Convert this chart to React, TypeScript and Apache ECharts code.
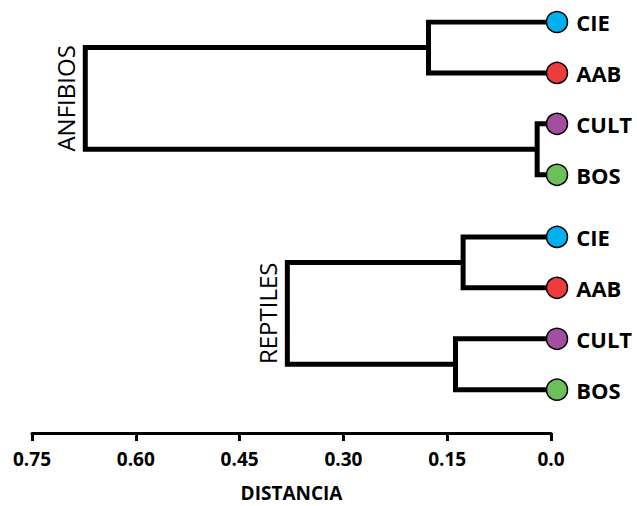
import React, { useEffect, useRef } from "react";
import * as echarts from "echarts";

// Leaves (same order in both dendrograms)
const leafNames = ["CIE", "AAB", "CULT", "BOS"];
const leafColors = ["#00B0F0", "#EE3B3B", "#A24FA0", "#6DBF59"];

// Groups and their merge heights: [CIE-AAB, CULT-BOS, root]
const groupNames = ["ANFIBIOS", "REPTILES"];
const anfibiosMerges = [0.177, 0.02, 0.673];
const reptilesMerges = [0.127, 0.138, 0.381];
const groupMerges = [anfibiosMerges, reptilesMerges];

// Axis ticks
const xMin = 0;
const xMax = 0.75;
const xInterval = 0.15;

const GROUP_SLOT = 4.22; // leaf slots per group incl. gap
const Y_MAX = 8.07;
const FONT = "'Open Sans', 'Noto Sans', sans-serif";

export default function App() {
  const ref = useRef<HTMLDivElement>(null);
  useEffect(() => {
    if (!ref.current) return;
    const chart = echarts.init(ref.current, undefined, { renderer: "svg" });
    const lineStyle = { color: "#000", width: 5, join: "miter" as const };
    const series: any[] = [];
    const roots: { name: string; h: number; y: number }[] = [];
    groupMerges.forEach((m, g) => {
      const base = g * GROUP_SLOT;
      const y = leafNames.map((_, i) => base + i);
      const [h1, h2, H] = m;
      const links = [
        [[0, y[0]], [h1, y[0]], [h1, y[1]], [0, y[1]]],
        [[0, y[2]], [h2, y[2]], [h2, y[3]], [0, y[3]]],
        [[h1, base + 0.5], [H, base + 0.5], [H, base + 2.5], [h2, base + 2.5]],
      ];
      links.forEach((d) =>
        series.push({
          type: "line",
          data: d,
          symbol: "none",
          lineStyle,
          silent: true,
          z: 2,
        })
      );
      roots.push({ name: groupNames[g], h: H, y: base + 1.5 });
      series.push({
        type: "scatter",
        z: 5,
        clip: false,
        symbol: "circle",
        symbolSize: 21,
        symbolOffset: [6, 0],
        data: leafNames.map((n, i) => ({
          value: [0, y[i]],
          name: n,
          itemStyle: { color: leafColors[i], borderColor: "#000", borderWidth: 1.5, opacity: 1 },
        })),
        label: {
          show: true,
          position: "right",
          distance: 8,
          formatter: (p: any) => p.name,
          color: "#000",
          fontFamily: FONT,
          fontWeight: "bold",
          fontSize: 22,
        },
      });
    });

    chart.setOption({
      animation: false,
      backgroundColor: "#fff",
      grid: {
        left: 32,
        right: 86,
        top: 22,
        bottom: 73,
        containLabel: false,
        outerBoundsMode: "none",
      },
      xAxis: {
        type: "value",
        position: "bottom",
        inverse: true,
        min: xMin,
        max: xMax,
        interval: xInterval,
        splitLine: { show: false },
        axisLine: { show: true, onZero: false, lineStyle: { color: "#000", width: 3 } },
        axisTick: { show: true, length: 8, lineStyle: { color: "#000", width: 3 } },
        axisLabel: {
          color: "#000",
          fontFamily: FONT,
          fontWeight: "bold",
          fontSize: 19,
          margin: 16,
          formatter: (v: number) => (v === 0 ? "0.0" : v.toFixed(2)),
        },
        name: "DISTANCIA",
        nameLocation: "middle",
        nameGap: 50,
        nameTextStyle: { color: "#000", fontFamily: FONT, fontWeight: "bold", fontSize: 19 },
      },
      yAxis: { type: "value", inverse: true, min: 0, max: Y_MAX, show: false },
      series,
    });

    const graphic = roots.map((r) => {
      const [px, py] = chart.convertToPixel({ gridIndex: 0 }, [r.h, r.y]) as number[];
      return {
        type: "text",
        x: px - 20,
        y: py,
        rotation: Math.PI / 2,
        style: {
          text: r.name,
          fill: "#000",
          font: `24px ${FONT}`,
          textAlign: "center",
          textVerticalAlign: "middle",
        },
      };
    });
    chart.setOption({ graphic });

    return () => chart.dispose();
  }, []);
  return (
    <div
      ref={ref}
      style={{ position: "fixed", left: 0, top: 0, width: 637, height: 506 }}
    />
  );
}
